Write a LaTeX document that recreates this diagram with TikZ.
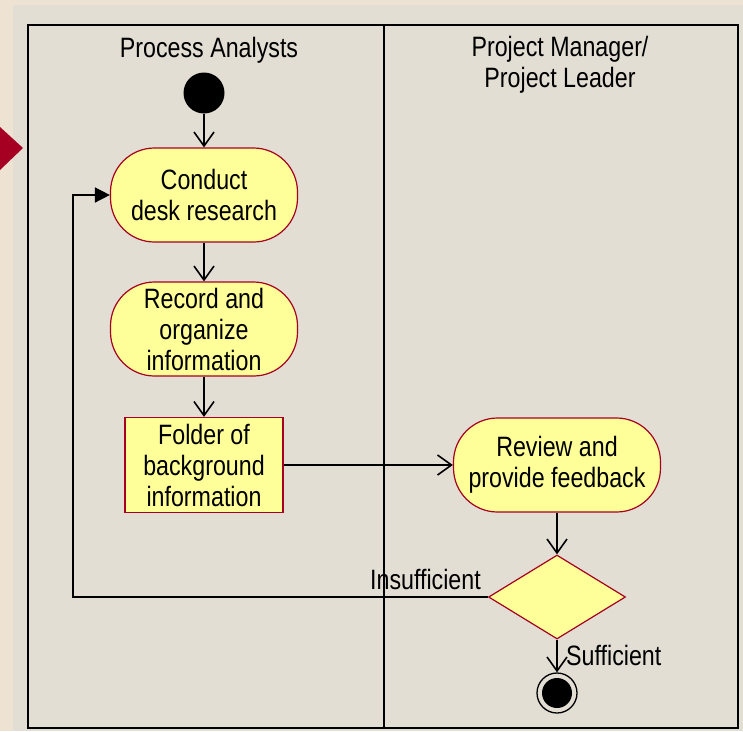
\documentclass[tikz,border=0pt]{standalone}
\usepackage{fontspec}
\setmainfont{Liberation Sans}[FakeStretch=0.83]
\usetikzlibrary{arrows.meta,shapes.geometric}
\definecolor{pagebg}{HTML}{EEE3D2}
\definecolor{lanebg}{HTML}{E3DED4}
\definecolor{boxfill}{HTML}{FFFF99}
\definecolor{boxline}{HTML}{A50021}
\tikzset{
    action/.style={draw=boxline, fill=boxfill, line width=1.2pt, rounded corners=44pt,
        minimum height=94pt, inner sep=0pt, align=center},
    object/.style={draw=boxline, fill=boxfill, line width=1.2pt,
        minimum width=158pt, minimum height=95pt, inner sep=0pt, align=center},
    decision/.style={draw=boxline, fill=boxfill, line width=1.2pt, diamond,
        minimum width=137pt, minimum height=84pt, inner sep=0pt},
    flow/.style={line width=1.6pt, -{Straight Barb[length=14pt,width=20pt,line width=1.6pt]}},
    loopflow/.style={line width=1.6pt, -{Triangle[length=15pt,width=15pt]}},
    lane/.style={line width=1.6pt},
}
\begin{document}
\begin{tikzpicture}[x=1pt, y=-1pt, font=\fontsize{28}{31}\selectfont]
    \useasboundingbox (0,0) rectangle (743,731);
    \fill[pagebg] (0,0) rectangle (743,731);
    \fill[lanebg] (13,5) rectangle (743,731);
    \fill[boxline] (0,127) -- (23,148) -- (0,170) -- cycle;
    % swimlanes
    \draw[lane] (28,25) rectangle (384,728);
    \draw[lane] (384,25) rectangle (738,728);
    \node (analysts) at (209,50) {Process Analysts};
    \node[align=center] (manager) at (560,65) {Project Manager/\\Project Leader};
    % nodes
    \node[circle, fill=black, minimum size=41pt, inner sep=0pt] (start) at (204,93) {};
    \node[action, minimum width=187pt] (conduct) at (204,195) {Conduct\\desk research};
    \node[action, minimum width=187pt] (record) at (204,329) {Record and\\organize\\information};
    \node[object] (folder) at (204,465) {Folder of\\background\\information};
    \node[action, minimum width=207pt] (review) at (557,465) {Review and\\provide feedback};
    \node[decision] (check) at (557,597) {};
    \node[circle, draw=black, line width=1.3pt, minimum size=40pt, inner sep=0pt] (finish) at (557,693) {};
    \fill (finish) circle (15pt);
    % connectors
    \draw[flow] (start) -- (conduct);
    \draw[flow] (conduct) -- (record);
    \draw[flow] (record) -- (folder);
    \draw[flow] (folder) -- (review);
    \draw[flow] (review) -- (check);
    \draw[flow] (check) -- (finish);
    \draw[loopflow] (check.west) -- ++(-415,0) |- (conduct.west);
    \node[anchor=south east, inner sep=0pt] (insufficient) at (481,590) {Insufficient};
    \node[anchor=west, inner sep=0pt] (sufficient) at (566,655) {Sufficient};
\end{tikzpicture}
\end{document}
